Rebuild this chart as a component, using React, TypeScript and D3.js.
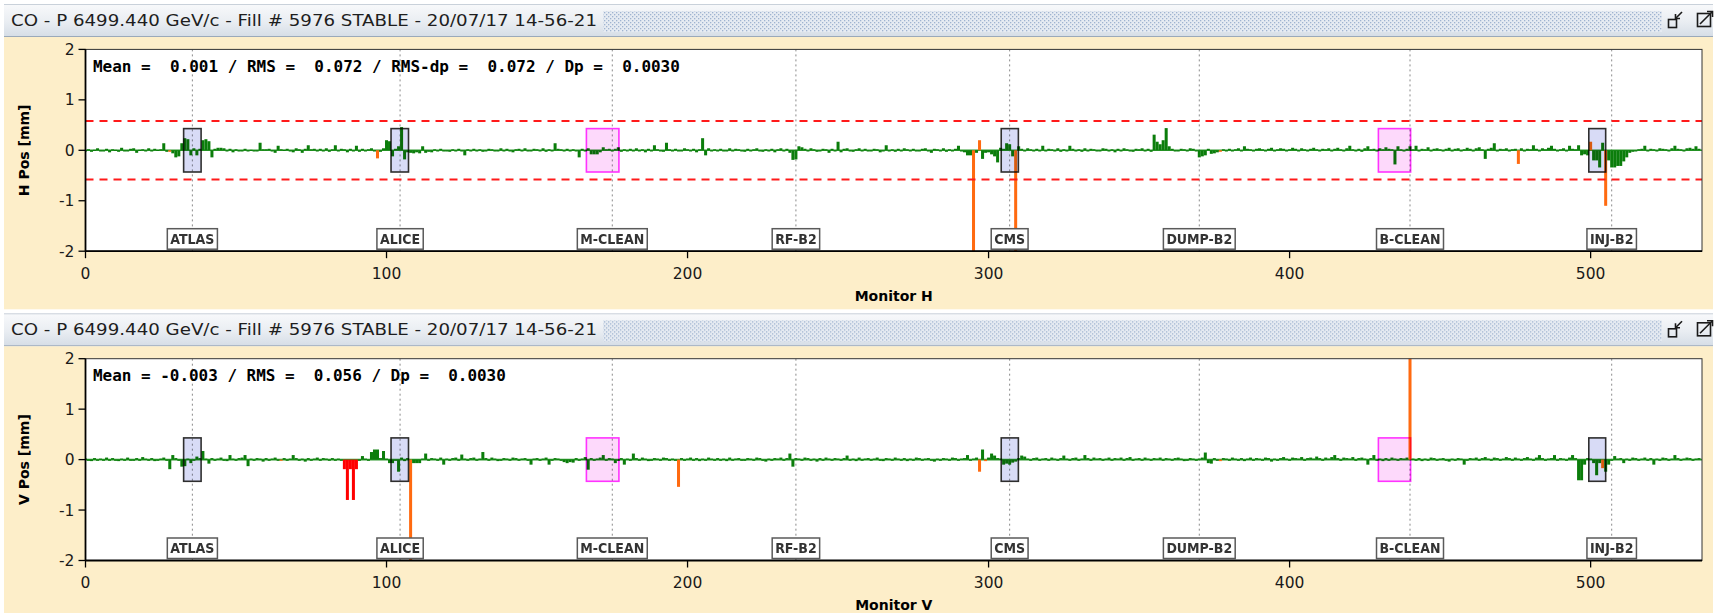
import React, { useMemo } from "react";
import * as d3 from "d3";

// ---------------- DATA ----------------
const TITLE = "CO - P 6499.440 GeV/c - Fill # 5976 STABLE - 20/07/17 14-56-21";
const X_TICKS = [0, 100, 200, 300, 400, 500];
const Y_TICKS = [2, 1, 0, -1, -2];
const X_MAX = 537;
const THRESHOLD = 0.58;

const MARKER_NAMES = ["ATLAS", "ALICE", "M-CLEAN", "RF-B2", "CMS", "DUMP-B2", "B-CLEAN", "INJ-B2"];
const MARKER_POS = [35.5, 104.5, 175, 236, 307, 370, 440, 507];

// insertion-region boxes [from, to] in monitor units, half-height in mm
const BLUE_BOXES = [[32.6, 38.4], [101.5, 107.3], [304.2, 309.9], [499.4, 505]];
const PINK_BOXES = [[166.4, 177.2], [429.5, 440.2]];
const BOX_HALF = 0.43;

// H plane positions, 1/100 mm, monitor 0..536
const H_VALUES = [
  0, 2, -3, 1, 4, -2, 0, 3, -4, 2,
  1, -3, 5, 0, -2, 3, 4, -5, 1, 2,
  0, 4, -2, 3, 1, 2, 14, -3, -3, -6,
  -14, -12, 14, 24, 22, -10, 4, -10, 3, 20,
  22, 18, -14, 3, 5, 5, 4, 0, 3, -4,
  2, 0, 0, 3, 0, 1, -2, 0, 15, 2,
  2, 3, 0, -5, 9, 2, 1, 3, 0, -4,
  4, 2, -5, 3, 10, 2, 3, 0, 3, 0,
  4, -3, 2, 10, 0, 3, 2, -4, 3, 0,
  9, -3, 3, 0, 2, 4, 0, -16, -3, 4,
  20, 18, -12, 3, 8, 46, -18, -4, -5, -6,
  -4, -6, 8, -5, -3, -4, 2, 0, 3, 0,
  0, -3, 2, 0, 3, 0, -10, 2, 0, 3,
  0, 2, -3, 0, 3, 2, 0, -2, 4, 0,
  3, 0, -4, 2, 3, 0, 4, -2, 0, 3,
  2, 0, 4, -3, 2, 0, 14, 3, 2, 0,
  3, 0, 2, 0, -14, 3, 0, 4, -8, -8,
  -8, -4, 6, 2, 3, 0, 3, 6, -3, 2,
  0, 3, -2, 4, 0, 2, -4, 3, 0, 10,
  2, 0, -3, 15, 2, 0, 3, -2, 0, 4,
  2, 0, 3, -4, 2, 24, -10, 4, 0, 2,
  0, 3, 0, -2, 4, 0, 3, 2, 0, -3,
  3, 0, 2, 4, 0, -3, 2, 0, 3, -4,
  2, 4, 0, 3, -5, -19, -18, 8, 6, 3,
  0, 4, 2, -3, 0, 3, 2, -5, 3, 0,
  17, -4, 3, 4, 0, -3, 2, 4, 0, 3,
  -2, 0, 3, 2, -4, 0, 10, 0, 2, -3,
  3, 0, 4, 2, 0, 3, -2, 0, 3, 4,
  0, -5, 3, 2, 0, 4, -3, 2, 0, 3,
  9, 0, -4, -10, -10, -250, -5, 20, -17, -5,
  -4, -8, -12, -24, 5, 3, 14, 12, -12, -250,
  8, 3, 0, 4, 2, 0, 3, -2, 9, 0,
  3, 2, 0, 4, -3, 2, 0, 9, 3, 0,
  2, -3, 4, 0, 3, 2, -2, 0, 4, 3,
  0, 2, -4, 3, 0, 4, 2, 0, -3, 3,
  2, 4, 0, 3, -3, 31, 17, 12, 20, 44,
  8, 3, -2, 0, 3, 2, 0, 4, 3, -2,
  -14, -12, -10, 3, -7, -6, -4, -3, 2, 0,
  3, 0, 2, 4, 0, 8, 3, 2, 0, 3,
  4, 2, 0, 3, 5, 0, 2, 4, 3, 0,
  2, 5, 3, 0, 4, 2, 0, 3, 5, 2,
  0, 3, 2, 4, 0, 3, 5, 2, 0, 4,
  9, 2, 0, 3, -3, 4, 8, 2, 3, 0,
  4, 2, 6, 3, 2, -28, 8, 2, 0, 3,
  8, 2, 9, 0, 3, 2, 6, 0, 3, 4,
  2, 0, 3, 5, -2, 3, 4, 0, 2, 5,
  3, 0, 4, 6, 2, -17, 3, 5, 14, 0,
  3, 2, 4, 0, 2, 3, -27, 4, 0, 3,
  2, 10, 3, 0, 4, 2, 5, 9, 3, 0,
  2, 4, 0, 9, 3, 2, 10, -10, -8, -10,
  17, -20, -20, -34, 15, -110, -20, -34, -34, -31,
  -31, -22, -14, -5, -3, 0, 2, 3, 9, 0,
  3, 2, 0, 4, 3, 2, 0, 4, 9, 3,
  2, 0, 4, 5, 3, 8, 3,
];
const H_ORANGE = [28, 97, 295, 297, 309, 377, 476, 500, 505];
const H_RED: number[] = [];

// V plane positions, 1/100 mm, monitor 0..536
const V_VALUES = [
  2, 0, -3, 3, 0, 2, -2, 4, 0, 3,
  0, -3, 2, 0, 4, 0, -2, 3, 0, 5,
  2, 0, 3, -3, 0, 2, 4, 0, -19, 9,
  3, 0, -14, -13, 2, -7, 0, 6, 3, 17,
  2, -8, 3, 0, 2, 4, 0, -3, 9, 2,
  0, 3, 4, 9, -13, 2, 0, 3, 2, -4,
  3, 0, 2, 4, 0, -2, 3, 0, 2, 9,
  3, 0, 2, -4, 3, 0, 2, 4, 0, 3,
  2, 0, 3, 0, 2, 0, -19, -80, -19, -80,
  -19, 0, 7, 2, 0, 15, 20, 20, 3, 17,
  2, -7, -7, 0, -24, 4, -3, 3, -250, -7,
  -7, -7, 2, 12, 0, 3, 2, 0, 4, -10,
  2, 0, 3, 4, 0, 10, 2, 0, 3, 4,
  0, 2, 15, 3, 0, 4, 2, -3, 0, 3,
  2, 0, 4, 3, 0, 2, 3, 0, -10, 2,
  3, 0, 2, 4, -10, 0, 3, 2, 0, -5,
  -7, -5, -6, 3, 0, 2, 5, -20, 3, 0,
  2, 4, 9, 0, 3, 2, -7, 0, 3, -10,
  2, 0, 12, 3, 0, 4, 2, -3, 0, 3,
  2, 0, 4, 3, 0, 2, 0, -54, 3, 0,
  2, 4, 0, 3, -3, 2, 0, 4, 2, 0,
  3, 0, 2, -3, 4, 0, 2, 3, 0, -2,
  3, 2, 0, 4, 3, 0, -4, 2, 0, 3,
  2, 4, 0, 3, 12, -14, 3, 2, 0, 4,
  3, 0, 2, -4, 3, 0, 4, 2, 0, 3,
  2, 0, 3, 8, 0, 2, -3, 4, 0, 2,
  3, 0, 2, 4, 0, -3, 3, 2, 0, 4,
  2, 0, 3, -3, 2, 0, 4, 3, 0, 2,
  3, 0, -4, 2, 0, 3, 2, 0, 4, 3,
  0, 2, 3, 9, 0, 2, 4, -24, 20, -3,
  4, 12, 8, 3, 2, -10, -8, -10, -6, -4,
  3, 8, 6, 2, 0, 3, 4, 0, 2, 3,
  0, 4, 2, 0, 3, 8, 2, 0, 3, 4,
  0, 2, 9, 3, 0, 4, 2, 3, 0, 2,
  4, 0, 3, 2, 4, 0, 3, 5, 0, 2,
  3, 0, 4, 2, 0, 3, 2, 4, 0, 3,
  2, 0, 3, 4, 2, -3, 0, 3, 2, 0,
  2, 4, 14, -7, -8, 3, 0, -3, 3, 2,
  0, 4, 2, 0, 3, -3, 2, 4, 0, 3,
  2, 0, 4, 3, -4, 2, 0, 3, 5, 2,
  0, 4, 3, 2, 5, 0, 3, 4, 2, 6,
  3, 0, 4, 2, 5, 9, 3, 0, 4, 3,
  2, 5, 0, 3, 4, 2, -10, 3, 9, 0,
  2, -3, 3, 0, 4, 2, 0, 3, 2, 4,
  250, 2, 0, 3, -3, 2, 0, 4, 3, 0,
  2, 3, 0, -4, 2, 0, 3, 2, -10, 0,
  3, 2, 4, 0, 3, 5, 2, 0, 4, 3,
  0, 2, 5, 3, 0, 4, 2, 0, 3, 5,
  2, 0, 4, 9, 3, 0, 2, 3, 9, 0,
  3, 2, 0, 4, 9, 3, -41, -41, -10, 3,
  2, -7, -31, -7, -17, -24, -10, 0, 7, 2,
  3, -7, 2, 0, 4, 3, 0, 2, 4, 0,
  3, -10, 2, 0, 4, 3, 0, 2, 9, 3,
  0, 2, 4, 3, 0, 2, 3,
];
const V_ORANGE = [65, 108, 197, 297, 299, 377, 440, 504];
const V_RED = [86, 87, 88, 89, 90];

const H_STATS = "Mean =  0.001 / RMS =  0.072 / RMS-dp =  0.072 / Dp =  0.0030";
const V_STATS = "Mean = -0.003 / RMS =  0.056 / Dp =  0.0030";

// ---------------- LAYOUT ----------------
const W = 1720;
const PANEL_DY = 309.3;
const PLOT_L = 85.5;
const PLOT_R = 1702;
const PLOT_T = 49.4;
const PLOT_B = 251.2;
const BEIGE = "#fdeec9";
const GREEN = "#0b7d0b";
const ORANGE = "#ff6a10";
const RED = "#ff0000";

function measure(text: string, font: string): number {
  const c = document.createElement("canvas").getContext("2d");
  if (!c) return text.length * 8;
  c.font = font;
  return c.measureText(text).width;
}

const LABEL_FONT = "bold 14px 'DejaVu Sans Condensed', 'DejaVu Sans'";

function Panel({ oy, values, orange, red, stats, yLabel, xLabel, showThreshold, id }: any) {
  const x = d3.scaleLinear().domain([0, X_MAX]).range([PLOT_L, PLOT_R]);
  const y = d3.scaleLinear().domain([-2, 2]).range([PLOT_B, PLOT_T]);
  const bw = x(1) - x(0);
  const labelWidths = useMemo(
    () => MARKER_NAMES.map((n) => measure(n, LABEL_FONT)),
    []
  );
  const clipId = "clip-" + id;
  return (
    <g transform={`translate(0,${oy})`}>
      {/* title bar */}
      <rect x={4} y={4} width={1709} height={33} fill="url(#titleGrad)" />
      <line x1={4} x2={1713} y1={36.5} y2={36.5} stroke="#9aa9ba" strokeWidth={1} />
      <line x1={4} x2={1713} y1={4.5} y2={4.5} stroke="#c9d1da" strokeWidth={1} />
      <text
        x={11}
        y={25.5}
        fontFamily="'DejaVu Sans', sans-serif"
        fontSize={15}
        fill="#1e1e1e"
        textLength={586}
        lengthAdjust="spacingAndGlyphs"
      >
        {TITLE}
      </text>
      <rect x={603} y={11} width={1059} height={21} fill="url(#dotPat)" />
      {/* icons */}
      <g stroke="#1a1a1a" fill="none" strokeWidth={1.6}>
        <rect x={1668.5} y={19.5} width={8} height={8} />
        <line x1={1682} y1={12} x2={1676} y2={18} />
        <path d="M1675.5,14 L1675.5,18.5 L1680,18.5" />
        <rect x={1697.5} y={13.5} width={13} height={13} />
        <line x1={1700} y1={24} x2={1712} y2={12} />
        <path d="M1707,11.5 L1712.5,11.5 L1712.5,17" />
      </g>
      {/* beige panel */}
      <rect x={4} y={37} width={1709} height={PANEL_DY - 37} fill={BEIGE} />
      {/* plot background */}
      <rect x={PLOT_L} y={PLOT_T} width={PLOT_R - PLOT_L} height={PLOT_B - PLOT_T} fill="#ffffff" />
      <defs>
        <clipPath id={clipId}>
          <rect x={PLOT_L} y={PLOT_T} width={PLOT_R - PLOT_L} height={PLOT_B - PLOT_T} />
        </clipPath>
      </defs>
      <g clipPath={`url(#${clipId})`}>
        {MARKER_POS.map((m, i) => (
          <line
            key={"m" + i}
            x1={x(m)}
            x2={x(m)}
            y1={PLOT_T}
            y2={PLOT_B}
            stroke="#8a8a8a"
            strokeWidth={1}
            strokeDasharray="2,3"
          />
        ))}
        <line x1={PLOT_L} x2={PLOT_R} y1={y(0)} y2={y(0)} stroke="#2f9a2f" strokeWidth={1.6} />
        {values.map((v: number, i: number) => {
          const val = v / 100;
          const col = red.includes(i) ? RED : orange.includes(i) ? ORANGE : GREEN;
          const y0 = y(Math.max(0, val));
          const y1 = y(Math.min(0, val));
          return (
            <rect
              key={"b" + i}
              x={x(i - 0.5)}
              y={y0}
              width={bw}
              height={Math.max(1.2, y1 - y0)}
              fill={col}
            />
          );
        })}
        {BLUE_BOXES.map((b, i) => (
          <rect
            key={"bb" + i}
            x={x(b[0])}
            y={y(BOX_HALF)}
            width={x(b[1]) - x(b[0])}
            height={y(-BOX_HALF) - y(BOX_HALF)}
            fill="#d8dbf6"
            style={{ mixBlendMode: "multiply" }}
            stroke="#2e2e2e"
            strokeWidth={1.6}
          />
        ))}
        {PINK_BOXES.map((b, i) => (
          <rect
            key={"pb" + i}
            x={x(b[0])}
            y={y(BOX_HALF)}
            width={x(b[1]) - x(b[0])}
            height={y(-BOX_HALF) - y(BOX_HALF)}
            fill="#fdd9fb"
            style={{ mixBlendMode: "multiply" }}
            stroke="#ff33ff"
            strokeWidth={1.6}
          />
        ))}
        {showThreshold &&
          [THRESHOLD, -THRESHOLD].map((t, i) => (
            <line
              key={"t" + i}
              x1={PLOT_L}
              x2={PLOT_R}
              y1={y(t)}
              y2={y(t)}
              stroke="#ff1a1a"
              strokeWidth={2}
              strokeDasharray="8,6"
            />
          ))}
        {MARKER_NAMES.map((n, i) => {
          const w = labelWidths[i] + 6;
          const cx = x(MARKER_POS[i]);
          return (
            <g key={"l" + i}>
              <rect
                x={cx - w / 2}
                y={PLOT_B - 22.5}
                width={w}
                height={20.5}
                fill="#ffffff"
                stroke="#5a5a5a"
                strokeWidth={1.5}
              />
              <text
                x={cx}
                y={PLOT_B - 7}
                textAnchor="middle"
                fontFamily="'DejaVu Sans Condensed', 'DejaVu Sans', sans-serif"
                fontWeight="bold"
                fontSize={14}
                fill="#333"
              >
                {n}
              </text>
            </g>
          );
        })}
      </g>
      {/* stats */}
      <text
        x={93}
        y={72}
        fontFamily="'DejaVu Sans Mono', monospace"
        fontWeight="bold"
        fontSize={16}
        fill="#000"
        textLength={stats.length * 9.67 - 3}
        lengthAdjust="spacingAndGlyphs"
        style={{ whiteSpace: "pre" }}
        xmlSpace="preserve"
      >
        {stats}
      </text>
      {/* frame */}
      <rect
        x={PLOT_L}
        y={PLOT_T}
        width={PLOT_R - PLOT_L}
        height={PLOT_B - PLOT_T}
        fill="none"
        stroke="#333"
        strokeWidth={1}
      />
      <line x1={PLOT_L} x2={PLOT_L} y1={PLOT_T} y2={PLOT_B} stroke="#000" strokeWidth={1.8} />
      <line x1={PLOT_L} x2={PLOT_R} y1={PLOT_B} y2={PLOT_B} stroke="#000" strokeWidth={1.8} />
      {/* y axis */}
      {Y_TICKS.map((t) => (
        <g key={"yt" + t}>
          <line x1={PLOT_L - 7} x2={PLOT_L} y1={y(t)} y2={y(t)} stroke="#000" strokeWidth={1.3} />
          <text
            x={PLOT_L - 11}
            y={y(t) + 5.5}
            textAnchor="end"
            fontFamily="'DejaVu Sans', sans-serif"
            fontSize={15.5}
            fill="#1a1a1a"
          >
            {String(t)}
          </text>
        </g>
      ))}
      {/* x axis */}
      {X_TICKS.map((t) => (
        <g key={"xt" + t}>
          <line x1={x(t)} x2={x(t)} y1={PLOT_B} y2={PLOT_B + 7} stroke="#000" strokeWidth={1.3} />
          <text
            x={x(t)}
            y={PLOT_B + 28}
            textAnchor="middle"
            fontFamily="'DejaVu Sans', sans-serif"
            fontSize={15.5}
            fill="#1a1a1a"
          >
            {t}
          </text>
        </g>
      ))}
      <text
        x={(PLOT_L + PLOT_R) / 2}
        y={PLOT_B + 50}
        textAnchor="middle"
        fontFamily="'DejaVu Sans', sans-serif"
        fontWeight="bold"
        fontSize={14}
        fill="#000"
      >
        {xLabel}
      </text>
      <text
        transform={`translate(29,${(PLOT_T + PLOT_B) / 2}) rotate(-90)`}
        textAnchor="middle"
        fontFamily="'DejaVu Sans', sans-serif"
        fontWeight="bold"
        fontSize={14}
        fill="#000"
      >
        {yLabel}
      </text>
    </g>
  );
}

export default function App() {
  return (
    <svg
      width={W}
      height={613}
      style={{ position: "fixed", left: 0, top: 0, background: "#ffffff" }}
    >
      <defs>
        <linearGradient id="titleGrad" x1="0" y1="0" x2="0" y2="1">
          <stop offset="0%" stopColor="#f8f9fb" />
          <stop offset="55%" stopColor="#e9edf2" />
          <stop offset="100%" stopColor="#d5dde6" />
        </linearGradient>
        <pattern id="dotPat" width={4} height={4} patternUnits="userSpaceOnUse">
          <rect width={4} height={4} fill="#e6ebf2" />
          <rect x={0} y={0} width={1.3} height={1.3} fill="#9fb3d0" />
          <rect x={2} y={2} width={1.3} height={1.3} fill="#9fb3d0" />
        </pattern>
      </defs>
      <rect x={0} y={0} width={W} height={613} fill="#ffffff" />
      <Panel
        id="h"
        oy={0}
        values={H_VALUES}
        orange={H_ORANGE}
        red={H_RED}
        stats={H_STATS}
        yLabel="H Pos [mm]"
        xLabel="Monitor H"
        showThreshold={true}
      />
      <Panel
        id="v"
        oy={PANEL_DY}
        values={V_VALUES}
        orange={V_ORANGE}
        red={V_RED}
        stats={V_STATS}
        yLabel="V Pos [mm]"
        xLabel="Monitor V"
        showThreshold={false}
      />
    </svg>
  );
}
